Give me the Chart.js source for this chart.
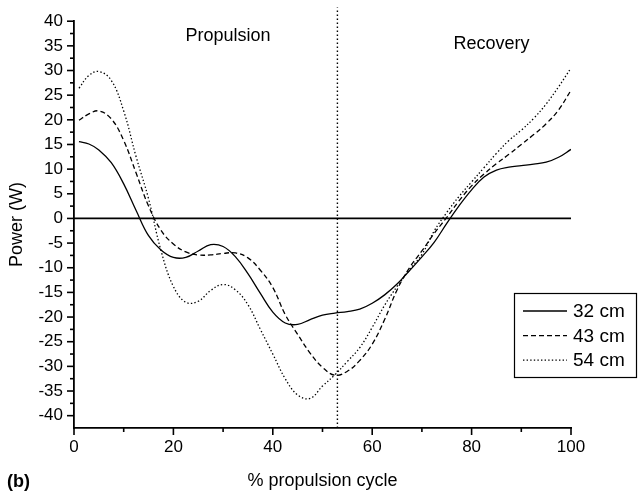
<!DOCTYPE html>
<html>
<head>
<meta charset="utf-8">
<script src="https://cdn.jsdelivr.net/npm/chart.js@4.4.1/dist/chart.umd.min.js"></script>
<style>
  html, body { margin: 0; padding: 0; background: #fff; }
  #wrap { width: 641px; height: 495px; position: relative; }
</style>
</head>
<body>
<div id="wrap"><canvas id="powerChart" width="641" height="495"></canvas></div>
<script>
// % propulsion cycle
const cycle = [1, 3, 5, 7.5, 10, 12.5, 15, 17.5, 20, 22.5, 25, 27.5, 30, 32.5, 35, 37.5, 40, 42.5, 45, 47.5, 50,
  52.5, 55, 57.5, 60, 62.5, 65, 67.5, 70, 72.5, 75, 77.5, 80, 82.5, 85, 87.5, 90, 92.5, 95, 97.5, 100];

// power (W) per seat height
const power32 = [15.6, 15.1, 13.9, 11.3, 7.0, 1.6, -3.5, -6.4, -7.9, -7.9, -6.6, -5.3, -5.7, -7.8, -11.2, -15.2, -19.0,
  -21.2, -21.5, -20.5, -19.6, -19.2, -18.9, -18.4, -17.2, -15.5, -13.3, -10.6, -7.8, -4.8, -1.0, 2.6, 5.8, 8.4, 9.8,
  10.4, 10.7, 11.0, 11.4, 12.4, 14.0];
const power43 = [19.9, 21.2, 21.8, 20.2, 15.8, 9.2, 2.5, -2.4, -5.2, -6.8, -7.4, -7.4, -7.1, -7.0, -8.0, -10.5, -14.0,
  -19.5, -23.5, -27.3, -30.2, -31.8, -31.0, -28.8, -25.5, -20.5, -14.5, -10.0, -6.6, -3.0, 0.2, 3.6, 6.6, 9.0, 11.1,
  13.0, 15.0, 17.0, 19.2, 22.0, 26.0];
const power54 = [26.4, 29.0, 29.8, 28.0, 21.8, 12.5, 4.0, -6.5, -13.8, -17.0, -16.8, -14.6, -13.4, -14.5, -17.5, -22.5,
  -27.5, -32.5, -35.8, -36.5, -34.0, -31.7, -29.0, -26.2, -22.1, -17.6, -13.8, -10.4, -7.3, -2.5, 1.2, 4.5, 7.4, 10.3,
  13.2, 15.8, 17.9, 20.3, 23.2, 26.7, 30.5];

const seriesNames = ['32 cm', '43 cm', '54 cm'];
const xTicks = [0, 20, 40, 60, 80, 100];
const yTicks = [-40, -35, -30, -25, -20, -15, -10, -5, 0, 5, 10, 15, 20, 25, 30, 35, 40];
const phaseSplit = 53;
const phaseLabels = [
  { text: 'Propulsion', x: 31, y: 37 },
  { text: 'Recovery', x: 84, y: 35.4 }
];

const FONT = '"Liberation Sans", Arial, Helvetica, sans-serif';

const toPoints = arr => cycle.map((x, i) => ({ x, y: arr[i] }));

// axis tick marks (major + minor), zero line, split line, labels, boxed legend
const decorPlugin = {
  id: 'decor',
  afterDatasetsDraw(chart) {
    const { ctx, scales: { x, y } } = chart;
    ctx.save();
    ctx.strokeStyle = '#000';

    // zero line
    ctx.lineWidth = 1.8;
    ctx.beginPath();
    ctx.moveTo(x.getPixelForValue(0), y.getPixelForValue(0));
    ctx.lineTo(x.getPixelForValue(100), y.getPixelForValue(0));
    ctx.stroke();

    // dotted split line
    ctx.lineWidth = 1.4;
    ctx.setLineDash([1.5, 2.5]);
    ctx.beginPath();
    ctx.moveTo(x.getPixelForValue(phaseSplit), y.getPixelForValue(y.min));
    ctx.lineTo(x.getPixelForValue(phaseSplit), y.getPixelForValue(42.8));
    ctx.stroke();
    ctx.setLineDash([]);

    // y ticks (outward)
    ctx.lineWidth = 1.6;
    const yl = x.getPixelForValue(0);
    yTicks.forEach(v => {
      const p = y.getPixelForValue(v);
      ctx.beginPath(); ctx.moveTo(yl, p); ctx.lineTo(yl - 7, p); ctx.stroke();
      if (v < 40) {
        const m = y.getPixelForValue(v + 2.5);
        ctx.beginPath(); ctx.moveTo(yl, m); ctx.lineTo(yl - 4, m); ctx.stroke();
      }
    });

    // x ticks (outward)
    const xb = y.getPixelForValue(y.min);
    xTicks.forEach(v => {
      const p = x.getPixelForValue(v);
      ctx.beginPath(); ctx.moveTo(p, xb); ctx.lineTo(p, xb + 7); ctx.stroke();
      if (v < 100) {
        const m = x.getPixelForValue(v + 10);
        ctx.beginPath(); ctx.moveTo(m, xb); ctx.lineTo(m, xb + 4); ctx.stroke();
      }
    });

    // phase labels
    ctx.fillStyle = '#000';
    ctx.font = '18px ' + FONT;
    ctx.textAlign = 'center';
    ctx.textBaseline = 'middle';
    phaseLabels.forEach(l => {
      ctx.fillText(l.text, x.getPixelForValue(l.x), y.getPixelForValue(l.y));
    });

    // panel letter
    ctx.font = 'bold 18px ' + FONT;
    ctx.textAlign = 'left';
    ctx.fillText('(b)', 7, 482);

    // legend box
    ctx.fillStyle = '#fff';
    ctx.fillRect(514, 293, 122, 84);
    ctx.lineWidth = 1.2;
    ctx.strokeRect(514.5, 293.5, 122, 84);
    ctx.fillStyle = '#000';
    ctx.font = '19px ' + FONT;
    chart.data.datasets.forEach((ds, i) => {
      const ly = 311 + i * 24.6;
      ctx.lineWidth = ds.borderWidth;
      ctx.setLineDash(ds.borderDash || []);
      ctx.beginPath(); ctx.moveTo(523, ly); ctx.lineTo(567, ly); ctx.stroke();
      ctx.setLineDash([]);
      ctx.fillText(ds.label, 573, ly + 1);
    });
    ctx.restore();
  }
};

const ctx = document.getElementById('powerChart').getContext('2d');
new Chart(ctx, {
  type: 'line',
  data: {
    datasets: [
      { label: seriesNames[0], data: toPoints(power32), borderDash: [] },
      { label: seriesNames[1], data: toPoints(power43), borderDash: [5, 3] },
      { label: seriesNames[2], data: toPoints(power54), borderDash: [1.4, 2.2] }
    ].map(d => Object.assign(d, {
      borderColor: '#000',
      borderWidth: 1.3,
      pointRadius: 0,
      fill: false,
      tension: 0.4
    }))
  },
  options: {
    responsive: false,
    animation: false,
    layout: { padding: { left: 0, right: 70, top: 21, bottom: 0 } },
    plugins: {
      legend: { display: false },
      tooltip: { enabled: false }
    },
    scales: {
      x: {
        type: 'linear',
        min: 0,
        max: 100,
        afterFit: s => { s.height = 67; },
        afterBuildTicks: s => { s.ticks = xTicks.map(v => ({ value: v })); },
        grid: { display: false, drawTicks: false },
        border: { display: true, color: '#000', width: 1.8 },
        ticks: { color: '#000', padding: 9, maxRotation: 0, font: { family: FONT, size: 17 } },
        title: {
          display: true,
          text: '% propulsion cycle',
          color: '#000',
          font: { family: FONT, size: 18 },
          padding: { top: 0, bottom: 3 }
        }
      },
      y: {
        min: -42.5,
        max: 40,
        afterFit: s => { s.width = 74; },
        afterBuildTicks: s => { s.ticks = yTicks.map(v => ({ value: v })); },
        grid: { display: false, drawTicks: false },
        border: { display: true, color: '#000', width: 1.8 },
        ticks: { color: '#000', padding: 11, font: { family: FONT, size: 17 } },
        title: {
          display: true,
          text: 'Power (W)',
          color: '#000',
          font: { family: FONT, size: 18 },
          padding: { top: 6, bottom: 0 }
        }
      }
    }
  },
  plugins: [decorPlugin]
});
</script>
</body>
</html>
